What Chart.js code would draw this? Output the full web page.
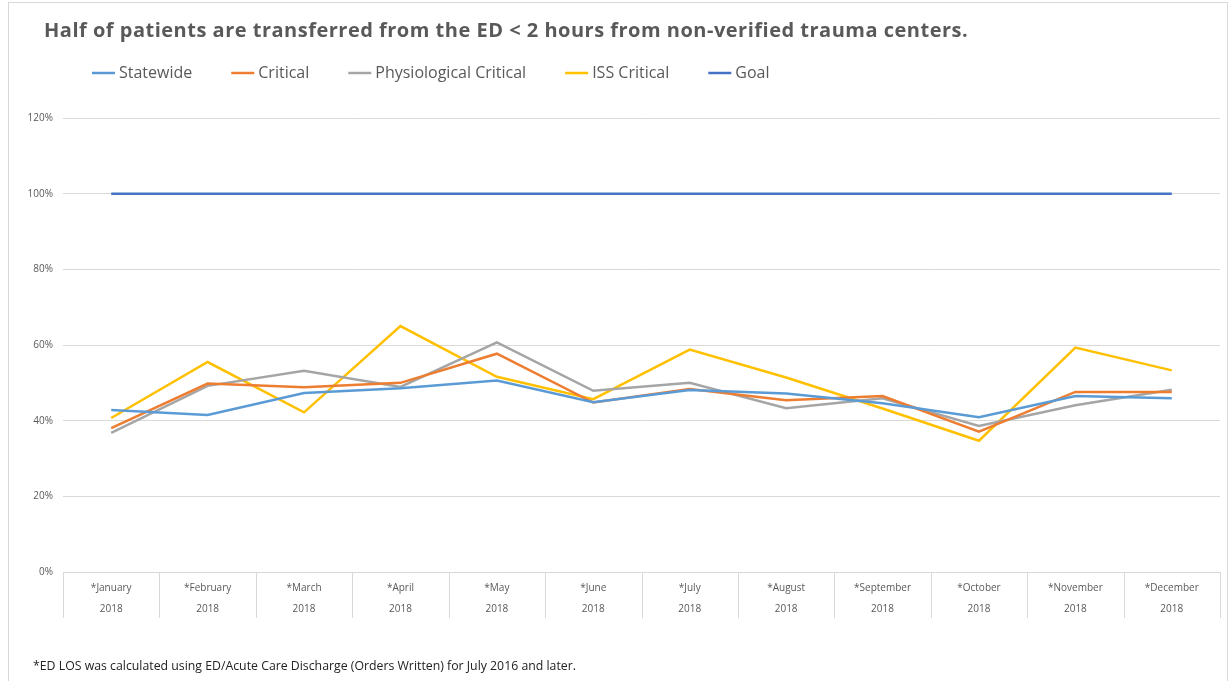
<!DOCTYPE html>
<html><head><meta charset="utf-8">
<script src="https://cdn.jsdelivr.net/npm/chart.js@4.4.1/dist/chart.umd.min.js"></script>
<style>html,body{margin:0;padding:0;background:#fff;}canvas{display:block;}</style>
</head><body>
<canvas id="c" width="1231" height="681"></canvas>
<script>
const months = ['*January','*February','*March','*April','*May','*June','*July','*August','*September','*October','*November','*December'];
const years = ['2018','2018','2018','2018','2018','2018','2018','2018','2018','2018','2018','2018'];
const statewide = [42.8, 41.5, 47.3, 48.6, 50.6, 44.9, 48.1, 47.2, 44.6, 40.9, 46.5, 45.9];
const critical = [38.0, 49.8, 48.8, 50.0, 57.7, 44.8, 48.4, 45.4, 46.5, 37.1, 47.6, 47.6];
const physiological = [36.8, 49.2, 53.2, 48.9, 60.7, 47.9, 50.0, 43.3, 45.9, 38.6, 44.1, 48.2];
const issCritical = [40.7, 55.5, 42.2, 65.0, 51.6, 45.7, 58.8, 51.4, 43.2, 34.7, 59.3, 53.3];
const goal = [100, 100, 100, 100, 100, 100, 100, 100, 100, 100, 100, 100];
const yTicks = [0, 20, 40, 60, 80, 100, 120];
const titleText = 'Half of patients are transferred from the ED < 2 hours from non-verified trauma centers.';
const footnoteText = '*ED LOS was calculated using ED/Acute Care Discharge (Orders Written) for July 2016 and later.';

const FONT = '"Open Sans", "Noto Sans", sans-serif';
const GRID = '#d9d9d9';
const TXT = '#595959';

const series = [
  {label: 'Statewide', data: statewide, color: '#5B9BD5'},
  {label: 'Critical', data: critical, color: '#ED7D31'},
  {label: 'Physiological Critical', data: physiological, color: '#A5A5A5'},
  {label: 'ISS Critical', data: issCritical, color: '#FFC000'},
  {label: 'Goal', data: goal, color: '#4472C4'}
];

const decor = {
  id: 'decor',
  beforeDraw(chart) {
    const ctx = chart.ctx;
    ctx.save();
    ctx.fillStyle = '#fff';
    ctx.fillRect(0, 0, chart.width, chart.height);
    ctx.strokeStyle = GRID;
    ctx.lineWidth = 1;
    ctx.strokeRect(8.5, 2.5, 1219, 700);
    ctx.restore();
  },
  afterDraw(chart) {
    const ctx = chart.ctx;
    const xs = chart.scales.x;
    const ys = chart.scales.y;
    ctx.save();
    // title
    ctx.fillStyle = TXT;
    ctx.font = 'bold 20px ' + FONT;
    ctx.letterSpacing = '0.5px';
    ctx.textBaseline = 'alphabetic';
    ctx.textAlign = 'left';
    ctx.fillText(titleText, 44, 37);
    ctx.letterSpacing = '0px';
    // legend
    ctx.font = '16px ' + FONT;
    ctx.textBaseline = 'middle';
    let x = 92;
    const ly = 73;
    chart.data.datasets.forEach(ds => {
      ctx.strokeStyle = ds.borderColor;
      ctx.lineWidth = 2.5;
      ctx.beginPath();
      ctx.moveTo(x, ly);
      ctx.lineTo(x + 23, ly);
      ctx.stroke();
      ctx.fillStyle = TXT;
      ctx.fillText(ds.label, x + 27, ly);
      x += 27 + ctx.measureText(ds.label).width + 39;
    });
    // category separators
    ctx.strokeStyle = GRID;
    ctx.lineWidth = 1;
    const n = chart.data.labels.length;
    const w = (xs.right - xs.left) / n;
    for (let i = 0; i <= n; i++) {
      const px = Math.round(xs.left + i * w) + 0.5;
      ctx.beginPath();
      ctx.moveTo(px, ys.bottom);
      ctx.lineTo(px, ys.bottom + 46);
      ctx.stroke();
    }
    // footnote
    ctx.fillStyle = '#222';
    ctx.font = '12.3px ' + FONT;
    ctx.textBaseline = 'alphabetic';
    ctx.fillText(footnoteText, 33, 670);
    ctx.restore();
  }
};

new Chart(document.getElementById('c'), {
  type: 'line',
  data: {
    labels: months.map((m, i) => [m, years[i]]),
    datasets: series.map(s => ({
      label: s.label,
      data: s.data,
      borderColor: s.color,
      backgroundColor: s.color,
      borderWidth: 2.5,
      pointRadius: 0,
      tension: 0,
      fill: false
    }))
  },
  options: {
    responsive: false,
    devicePixelRatio: 1,
    animation: false,
    layout: {padding: {top: 118, right: 11, left: 0, bottom: 0}},
    plugins: {legend: {display: false}, title: {display: false}, tooltip: {enabled: false}},
    scales: {
      x: {
        offset: true,
        grid: {display: false, offset: true},
        border: {display: false},
        ticks: {
          color: TXT,
          font: {family: FONT, size: 10, lineHeight: 2.1},
          padding: -2.5,
          maxRotation: 0,
          autoSkip: false
        },
        afterFit(s) { s.height = 109; }
      },
      y: {
        min: 0, max: 120,
        afterBuildTicks(s) { s.ticks = yTicks.map(v => ({value: v})); },
        grid: {color: GRID, lineWidth: 1, drawTicks: false},
        border: {display: false},
        ticks: {
          color: TXT,
          font: {family: FONT, size: 10},
          padding: 10,
          callback: v => v + '%'
        },
        afterFit(s) { s.width = 63; }
      }
    }
  },
  plugins: [decor]
});
</script>
</body></html>
